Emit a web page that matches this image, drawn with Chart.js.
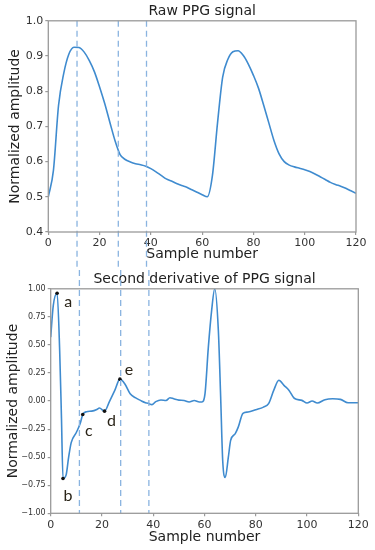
<!DOCTYPE html>
<html>
<head>
<meta charset="utf-8">
<script src="https://cdn.jsdelivr.net/npm/chart.js@4.4.1/dist/chart.umd.min.js"></script>
<style>
  body { margin: 0; background: #fff; }
  #wrap { position: relative; width: 375px; height: 550px; }
  canvas { position: absolute; left: 0; }
</style>
</head>
<body>
<div id="wrap">
  <canvas id="rawChart" width="375" height="270" style="top:0"></canvas>
  <canvas id="derivChart" width="375" height="280" style="top:270px"></canvas>
</div>
<script>
// raw PPG, one value every 2 samples (0..120)
var rawStep = 2;
var rawValues = [0.500, 0.575, 0.760, 0.850, 0.905, 0.925, 0.924, 0.911, 0.887, 0.855,
    0.812, 0.765, 0.712, 0.660, 0.620, 0.606, 0.599, 0.594, 0.591, 0.587,
    0.580, 0.571, 0.561, 0.551, 0.545, 0.538, 0.532, 0.527, 0.520, 0.513,
    0.506, 0.500, 0.560, 0.710, 0.840, 0.890, 0.912, 0.915, 0.902, 0.877,
    0.845, 0.808, 0.760, 0.710, 0.660, 0.622, 0.600, 0.590, 0.585, 0.581,
    0.577, 0.572, 0.565, 0.557, 0.549, 0.541, 0.535, 0.530, 0.524, 0.517, 0.510];

// second derivative (sample number / value)
var derivX = [0, 1, 2.5, 3.5, 4.2, 4.8, 6, 7, 8, 10, 11.5, 12.5, 14, 16, 18, 19, 21, 23, 25, 27,
    29, 31, 33, 35, 37, 38, 39.5, 41, 43, 45, 46.5, 48, 50, 52, 54, 56, 58, 59, 60.2, 61.5,
    62.8, 64, 65.4, 66.3, 67.1, 68.1, 69.3, 70.2, 72, 73.2, 75, 77, 80, 83, 85, 87, 89, 91, 93, 95,
    98, 100, 102, 104, 107, 110, 113, 116, 120];
var derivY = [0.57, 0.85, 0.96, 0.45, -0.15, -0.69, -0.66, -0.50, -0.37, -0.28, -0.20, -0.12, -0.095, -0.09, -0.075, -0.062, -0.09, 0.0, 0.095, 0.195,
    0.15, 0.065, 0.03, 0.006, -0.015, -0.02, -0.032, -0.005, 0.01, 0.005, 0.03, 0.02, 0.008, 0.005, -0.008, 0.005, -0.008, -0.008, 0.066, 0.48,
    0.81, 1.0, 0.63, 0.04, -0.53, -0.68, -0.50, -0.35, -0.29, -0.23, -0.11, -0.098, -0.077, -0.054, -0.023, 0.095, 0.185, 0.14, 0.095, 0.025,
    0.006, -0.018, 0.0, -0.018, 0.012, 0.02, 0.015, -0.015, -0.015];

// fiducial points a-e
var fiducialNames = ['a', 'b', 'c', 'd', 'e'];
var fiducialX = [2.5, 4.8, 12.5, 21, 27];
var fiducialY = [0.96, -0.69, -0.12, -0.09, 0.195];

// vertical dashed markers (sample number)
var markerLines = [11.2, 27.3, 38.3];

var rawTicksY = [0.4, 0.5, 0.6, 0.7, 0.8, 0.9, 1.0];
var derivTicksY = [-1, -0.75, -0.5, -0.25, 0, 0.25, 0.5, 0.75, 1];

var lineColor = '#3f8bcf';
var dashColor = '#8ab4e0';
var spineColor = '#9a9a9a';
var textColor = '#333';

// frame around the plot area + dashed markers
function framePlugin(extendDown) {
    return {
        id: 'frame',
        afterDraw: function (chart) {
            var ctx = chart.ctx, a = chart.chartArea, xs = chart.scales.x;
            ctx.save();
            ctx.strokeStyle = dashColor;
            ctx.lineWidth = 1.3;
            ctx.setLineDash([6, 4]);
            markerLines.forEach(function (m) {
                var px = xs.getPixelForValue(m);
                ctx.beginPath();
                if (extendDown) {
                    ctx.moveTo(px, a.top);
                    ctx.lineTo(px, chart.height);
                } else {
                    ctx.moveTo(px, 0);
                    ctx.lineTo(px, a.bottom);
                }
                ctx.stroke();
            });
            ctx.setLineDash([]);
            ctx.strokeStyle = spineColor;
            ctx.lineWidth = 1.3;
            ctx.strokeRect(a.left, a.top, a.right - a.left, a.bottom - a.top);
            ctx.restore();
        }
    };
}

// letters next to fiducial points
var letterOffsets = [[11, 9], [5, 17], [6, 16], [7, 10], [9, -9]];
var letterPlugin = {
    id: 'letters',
    afterDraw: function (chart) {
        var ctx = chart.ctx, xs = chart.scales.x, ys = chart.scales.y;
        ctx.save();
        ctx.fillStyle = '#2a2418';
        ctx.font = '16px Lato';
        ctx.textAlign = 'center';
        ctx.textBaseline = 'middle';
        fiducialNames.forEach(function (n, i) {
            var px = xs.getPixelForValue(fiducialX[i]) + letterOffsets[i][0];
            var py = ys.getPixelForValue(fiducialY[i]) + letterOffsets[i][1];
            ctx.fillText(n, px, py);
        });
        ctx.restore();
    }
};

function axisGrid() {
    return { drawOnChartArea: false, drawTicks: true, tickLength: 3, color: spineColor, lineWidth: 1.2 };
}

// ---- top: raw PPG signal
var rawCtx = document.getElementById('rawChart').getContext('2d');
var rawChart = new Chart(rawCtx, {
    type: 'line',
    data: {
        datasets: [{
            data: rawValues.map(function (v, i) { return { x: i * rawStep, y: v }; }),
            borderColor: lineColor,
            borderWidth: 1.6,
            pointRadius: 0,
            cubicInterpolationMode: 'monotone',
            fill: false
        }]
    },
    options: {
        responsive: false,
        animation: false,
        layout: { padding: { top: 0, right: 19, bottom: 0, left: 0 } },
        scales: {
            x: {
                type: 'linear', min: 0, max: 120,
                afterFit: function (s) { s.height = 38; },
                ticks: { stepSize: 20, font: { family: 'DejaVu Sans', size: 11 }, color: textColor, padding: 2, maxRotation: 0 },
                grid: axisGrid(),
                border: { display: false },
                title: { display: true, text: 'Sample number', font: { family: 'DejaVu Sans', size: 14 }, color: '#222', padding: { top: 0, bottom: 7 } }
            },
            y: {
                min: 0.4, max: 1.0,
                afterFit: function (s) { s.width = 48.3; },
                afterBuildTicks: function (s) { s.ticks = rawTicksY.map(function (v) { return { value: v }; }); },
                ticks: {
                    font: { family: 'DejaVu Sans', size: 11 }, color: textColor, padding: 2,
                    callback: function (v) { return v.toFixed(1); }
                },
                grid: axisGrid(),
                border: { display: false },
                title: { display: true, text: 'Normalized amplitude', font: { family: 'DejaVu Sans', size: 14 }, color: '#222', padding: { top: 6.5, bottom: 0 } }
            }
        },
        plugins: {
            legend: { display: false },
            tooltip: { enabled: false },
            title: {
                display: true,
                text: 'Raw PPG signal',
                fullSize: false,
                font: { family: 'DejaVu Sans', size: 14, weight: 'normal' },
                color: '#222',
                padding: { top: 3, bottom: 1 }
            }
        }
    },
    plugins: [framePlugin(true)]
});

// ---- bottom: second derivative
var derivCtx = document.getElementById('derivChart').getContext('2d');
var derivChart = new Chart(derivCtx, {
    type: 'line',
    data: {
        datasets: [
            {
                data: fiducialX.map(function (x, i) { return { x: x, y: fiducialY[i] }; }),
                showLine: false,
                pointRadius: 1.8,
                pointBackgroundColor: '#111',
                pointBorderWidth: 0
            },
            {
                data: derivX.map(function (x, i) { return { x: x, y: derivY[i] }; }),
                borderColor: lineColor,
                borderWidth: 1.6,
                pointRadius: 0,
                cubicInterpolationMode: 'monotone',
                fill: false
            }
        ]
    },
    options: {
        responsive: false,
        animation: false,
        layout: { padding: { top: 0, right: 16.7, bottom: 0, left: 0 } },
        scales: {
            x: {
                type: 'linear', min: 0, max: 120,
                afterFit: function (s) { s.height = 36.7; },
                ticks: { stepSize: 20, font: { family: 'DejaVu Sans', size: 11 }, color: textColor, padding: 2, maxRotation: 0 },
                grid: axisGrid(),
                border: { display: false },
                title: { display: true, text: 'Sample number', font: { family: 'DejaVu Sans', size: 14 }, color: '#222', padding: { top: 0, bottom: 4.6 } }
            },
            y: {
                min: -1, max: 1,
                afterFit: function (s) { s.width = 50.7; },
                afterBuildTicks: function (s) { s.ticks = derivTicksY.map(function (v) { return { value: v }; }); },
                ticks: {
                    font: { family: 'DejaVu Sans', size: 8 }, color: textColor, padding: 2,
                    callback: function (v) { return v.toFixed(2).replace('-', '\u2212'); }
                },
                grid: axisGrid(),
                border: { display: false },
                title: { display: true, text: 'Normalized amplitude', font: { family: 'DejaVu Sans', size: 14 }, color: '#222', padding: { top: 5, bottom: 0 } }
            }
        },
        plugins: {
            legend: { display: false },
            tooltip: { enabled: false },
            title: {
                display: true,
                text: 'Second derivative of PPG signal',
                fullSize: false,
                font: { family: 'DejaVu Sans', size: 14, weight: 'normal' },
                color: '#222',
                padding: { top: 1, bottom: 1 }
            }
        }
    },
    plugins: [framePlugin(false), letterPlugin]
});
</script>
</body>
</html>
